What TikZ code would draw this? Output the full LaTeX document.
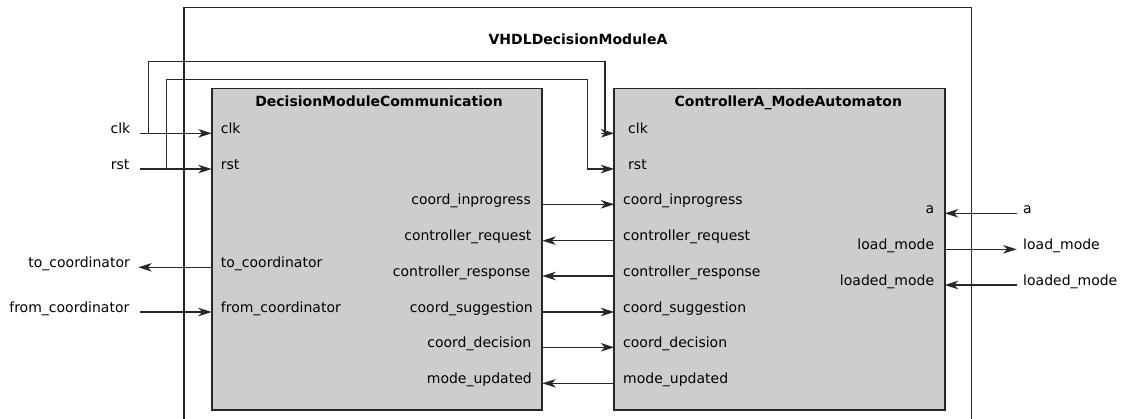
\documentclass[tikz,border=0pt]{standalone}
\usepackage{fontspec}
\setmainfont{DejaVu Sans}
\usetikzlibrary{arrows.meta}
\definecolor{blockfill}{RGB}{205,205,207}
\definecolor{wirecol}{RGB}{40,40,40}
\tikzset{
  block/.style={draw=black!85, line width=1.8pt, fill=blockfill, inner sep=0pt},
  wire/.style={draw=wirecol, line width=1.2pt},
  arr/.style={wire, -{Stealth[length=13.5pt, width=8.5pt, inset=4pt]}},
  lbl/.style={inner sep=0pt, font=\fontsize{14pt}{17pt}\selectfont},
  ttl/.style={inner sep=0pt, font=\fontsize{14pt}{17pt}\selectfont\bfseries},
  outerbox/.style={draw=black!85, line width=1.1pt}
}
\begin{document}
\begin{tikzpicture}[x=1pt,y=-1pt]
\useasboundingbox (0,0) rectangle (1123,418);
% outer container
\coordinate (obl) at (184,420);
\coordinate (otl) at (184,7.7);
\coordinate (otr) at (971.3,7.7);
\coordinate (obr) at (971.3,420);
\draw[outerbox] (obl) -- (otl) -- (otr) -- (obr);
\node[ttl, anchor=base] (vtitle) at (578,44.3) {VHDLDecisionModuleA};

% blocks
\node[block, minimum width=330.6pt, minimum height=321.5pt] (dmc) at (377,249.2) {};
\node[block, minimum width=330.3pt, minimum height=321.5pt] (ctl) at (779.5,249.2) {};
\node[ttl, anchor=base] (dmctitle) at (379,106) {DecisionModuleCommunication};
\node[ttl, anchor=base] (ctltitle) at (788.3,106) {ControllerA\_ModeAutomaton};

% port coordinates on block borders
\coordinate (dclk) at (211.7,133.3);
\coordinate (drst) at (211.7,169);
\coordinate (dto) at (211.7,267.3);
\coordinate (dfrom) at (211.7,312);
\coordinate (dcip) at (542.3,204.3);
\coordinate (dcrq) at (542.3,240.7);
\coordinate (dcrs) at (542.3,276);
\coordinate (dcsg) at (542.3,312);
\coordinate (dcde) at (542.3,347.3);
\coordinate (dmup) at (542.3,383.3);
\coordinate (cclk) at (614.3,133.3);
\coordinate (crst) at (614.3,169);
\coordinate (ccip) at (614.3,204.3);
\coordinate (ccrq) at (614.3,240.7);
\coordinate (ccrs) at (614.3,276);
\coordinate (ccsg) at (614.3,312);
\coordinate (ccde) at (614.3,347.3);
\coordinate (cmup) at (614.3,383.3);
\coordinate (ca) at (944.7,213.3);
\coordinate (clm) at (944.7,249.3);
\coordinate (cldm) at (944.7,285);

% external endpoints
\coordinate (xclk) at (140,133.3);
\coordinate (xrst) at (140,169);
\coordinate (xto) at (138.3,267.3);
\coordinate (xfrom) at (140,312);
\coordinate (xa) at (1016.7,213.3);
\coordinate (xlm) at (1016.7,249.3);
\coordinate (xldm) at (1016.7,285);

% routing points
\coordinate (clkj) at (148.3,133.3);
\coordinate (clktop) at (605,61.7);
\coordinate (clkdn) at (605,133.3);
\coordinate (rstj) at (166.7,169);
\coordinate (rsttop) at (587.3,79.3);

% external labels
\node[lbl, anchor=base east] (lclk) at (130.5,133.3) {clk};
\node[lbl, anchor=base east] (lrst) at (129.5,169) {rst};
\node[lbl, anchor=base east] (lto) at (130,267.3) {to\_coordinator};
\node[lbl, anchor=base east] (lfrom) at (129.5,312) {from\_coordinator};
\node[lbl, anchor=base west] (la) at (1023,213.3) {a};
\node[lbl, anchor=base west] (llm) at (1023,249.3) {load\_mode};
\node[lbl, anchor=base west] (lldm) at (1023,285) {loaded\_mode};

% DecisionModuleCommunication port labels
\node[lbl, anchor=base west] (pdclk) at (220.7,133.3) {clk};
\node[lbl, anchor=base west] (pdrst) at (220.7,169) {rst};
\node[lbl, anchor=base west] (pdto) at (220.7,267.3) {to\_coordinator};
\node[lbl, anchor=base west] (pdfrom) at (220.7,312) {from\_coordinator};
\node[lbl, anchor=base east] (pdcip) at (531,204.3) {coord\_inprogress};
\node[lbl, anchor=base east] (pdcrq) at (531.5,240.7) {controller\_request};
\node[lbl, anchor=base east] (pdcrs) at (530.5,276) {controller\_response};
\node[lbl, anchor=base east] (pdcsg) at (533,312) {coord\_suggestion};
\node[lbl, anchor=base east] (pdcde) at (531.5,347.3) {coord\_decision};
\node[lbl, anchor=base east] (pdmup) at (532,383.3) {mode\_updated};

% ControllerA_ModeAutomaton port labels
\node[lbl, anchor=base west] (pcclk) at (628,133.3) {clk};
\node[lbl, anchor=base west] (pcrst) at (628,169) {rst};
\node[lbl, anchor=base west] (pccip) at (623,204.3) {coord\_inprogress};
\node[lbl, anchor=base west] (pccrq) at (623,240.7) {controller\_request};
\node[lbl, anchor=base west] (pccrs) at (623,276) {controller\_response};
\node[lbl, anchor=base west] (pccsg) at (623,312) {coord\_suggestion};
\node[lbl, anchor=base west] (pccde) at (623,347.3) {coord\_decision};
\node[lbl, anchor=base west] (pcmup) at (623,383.3) {mode\_updated};
\node[lbl, anchor=base east] (pca) at (934.3,213.3) {a};
\node[lbl, anchor=base east] (pclm) at (934.3,249.3) {load\_mode};
\node[lbl, anchor=base east] (pcldm) at (934.3,285) {loaded\_mode};

% external connections
\draw[arr] (xclk) -- (dclk);
\draw[arr] (xrst) -- (drst);
\draw[arr] (dto) -- (xto);
\draw[arr] (xfrom) -- (dfrom);
\draw[wire] (clkj) |- (clktop) -- (clkdn);
\draw[arr] ([xshift=-4pt]clkdn) -- (cclk);
\draw[arr] (rstj) |- (rsttop) |- (crst);
\draw[arr] (xa) -- (ca);
\draw[arr] (clm) -- (xlm);
\draw[arr] (xldm) -- (cldm);

% internal connections
\draw[arr] (dcip) -- (ccip);
\draw[arr] (ccrq) -- (dcrq);
\draw[arr] (ccrs) -- (dcrs);
\draw[arr] (dcsg) -- (ccsg);
\draw[arr] (dcde) -- (ccde);
\draw[arr] (cmup) -- (dmup);
\end{tikzpicture}
\end{document}
